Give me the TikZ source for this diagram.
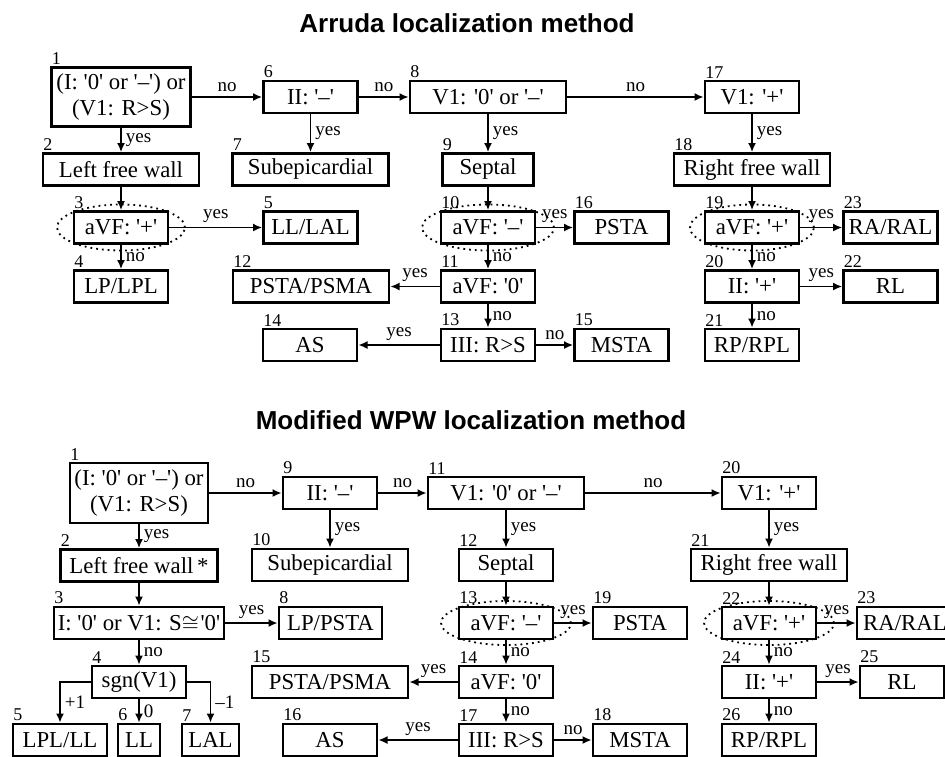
\documentclass[tikz,border=0pt]{standalone}
\usepackage{fontspec}
\usetikzlibrary{arrows.meta}
\setmainfont{Liberation Serif}
\newfontfamily\titlefont{Liberation Sans}

% straight single quotes round a lead value
\newcommand{\qt}[1]{\textquotesingle#1\textquotesingle}

\tikzset{
	box/.style={draw, line width=1.3pt, minimum width=47pt, minimum height=16pt, inner sep=1pt, font=\fontsize{11.4}{13}\selectfont},
	wide/.style={box, minimum width=78pt},
	num/.style={anchor=south west, inner sep=0.6pt, font=\fontsize{9}{10}\selectfont},
	arr/.style={-{Latex[length=4.6pt, width=4pt]}, line width=0.9pt},
	lab/.style={inner sep=2pt, font=\fontsize{9.5}{10}\selectfont},
	ring/.style={dotted, line width=0.9pt},
	title/.style={font=\titlefont\bfseries\fontsize{13}{15}\selectfont}
}

\begin{document}
\begin{tikzpicture}[x=0.5pt, y=-0.5pt]
		\useasboundingbox (0, 0) rectangle (945, 756);
		\clip (0, 0) rectangle (945, 756);

		% Arruda
		\node[title] (t1) at (467, 23) {Arruda localization method};

		\node[box, align=center, minimum width=69.5pt, minimum height=29.5pt, label={[num]north west:1}] (a1) at (121, 97) {(I: \qt{0} or \qt{--}) or\\(V1: R>S)};
		\node[wide, label={[num]north west:2}] (a2) at (121, 169.5) {Left free wall};
		\node[box, label={[num]north west:3}] (a3) at (121, 227.5) {aVF: \qt{+}};
		\node[box, label={[num]north west:4}] (a4) at (121, 286.5) {LP/LPL};
		\node[box, label={[num]north west:5}] (a5) at (310.5, 227.5) {LL/LAL};
		\node[box, label={[num]north west:6}] (a6) at (310.5, 97) {II: \qt{--}};
		\node[wide, label={[num]north west:7}] (a7) at (310.5, 169.5) {Subepicardial};
		\node[wide, label={[num]north west:8}] (a8) at (488, 97) {V1: \qt{0} or \qt{--}};
		\node[box, minimum width=45.5pt, label={[num]north west:9}] (a9) at (488, 169.5) {Septal};
		\node[box, label={[num]north west:10}] (a10) at (488, 227.5) {aVF: \qt{--}};
		\node[box, label={[num]north west:11}] (a11) at (488, 286.5) {aVF: \qt{0}};
		\node[wide, label={[num]north west:12}] (a12) at (311, 286.5) {PSTA/PSMA};
		\node[box, label={[num]north west:13}] (a13) at (488, 345) {III: R>S};
		\node[box, label={[num]north west:14}] (a14) at (310, 345) {AS};
		\node[box, label={[num]north west:15}] (a15) at (621.5, 345) {MSTA};
		\node[box, label={[num]north west:16}] (a16) at (621.5, 227.5) {PSTA};
		\node[box, label={[num]north west:17}] (a17) at (752, 97) {V1: \qt{+}};
		\node[wide, label={[num]north west:18}] (a18) at (752, 169.5) {Right free wall};
		\node[box, label={[num]north west:19}] (a19) at (752, 227.5) {aVF: \qt{+}};
		\node[box, label={[num]north west:20}] (a20) at (752, 286.5) {II: \qt{+}};
		\node[box, label={[num]north west:21}] (a21) at (752, 345) {RP/RPL};
		\node[box, label={[num]north west:22}] (a22) at (890.5, 286.5) {RL};
		\node[box, label={[num]north west:23}] (a23) at (890.5, 227.5) {RA/RAL};

		\draw[ring] (a3) ellipse [x radius=32pt, y radius=11.5pt];
		\draw[ring] (a10) ellipse [x radius=33pt, y radius=11.5pt];
		\draw[ring] (a19) ellipse [x radius=31pt, y radius=11.5pt];

		\draw[arr] (a1) -- node[lab, right] {yes} (a2);
		\draw[arr] (a1) -- node[lab, above] {no} (a6);
		\draw[arr] (a6) -- node[lab, right] {yes} (a7);
		\draw[arr] (a6) -- node[lab, above] {no} (a8);
		\draw[arr] (a8) -- node[lab, right] {yes} (a9);
		\draw[arr] (a8) -- node[lab, above] {no} (a17);
		\draw[arr] (a17) -- node[lab, right] {yes} (a18);
		\draw[arr] (a2) -- (a3);
		\draw[arr] (a3) -- node[lab, above] {yes} (a5);
		\draw[arr] (a3) -- node[lab, right] {no} (a4);
		\draw[arr] (a9) -- (a10);
		\draw[arr] (a10) -- node[lab, above] {yes} (a16);
		\draw[arr] (a10) -- node[lab, right] {no} (a11);
		\draw[arr] (a11) -- node[lab, above] {yes} (a12);
		\draw[arr] (a11) -- node[lab, right] {no} (a13);
		\draw[arr] (a13) -- node[lab, above] {yes} (a14);
		\draw[arr] (a13) -- node[lab, above] {no} (a15);
		\draw[arr] (a18) -- (a19);
		\draw[arr] (a19) -- node[lab, above] {yes} (a23);
		\draw[arr] (a19) -- node[lab, right] {no} (a20);
		\draw[arr] (a20) -- node[lab, above] {yes} (a22);
		\draw[arr] (a20) -- node[lab, right] {no} (a21);

		% modified WPW
		\node[title] (t2) at (471, 420) {Modified WPW localization method};

		\node[box, align=center, minimum width=69pt, minimum height=30pt, label={[num]north west:1}] (w1) at (139, 493) {(I: \qt{0} or \qt{--}) or\\(V1: R>S)};
		\node[wide, minimum width=78.5pt, label={[num]north west:2}] (w2) at (139, 565.5) {Left free wall\,*};
		\node[box, minimum width=85pt, label={[num]north west:3}] (w3) at (139, 623) {I: \qt{0} or V1: S$\cong$\kern0.8pt\qt{0}};
		\node[box, label={[num]north west:4}] (w4) at (139, 682) {sgn(V1)};
		\node[box, label={[num]north west:5}] (w5) at (60, 740) {LPL/LL};
		\node[box, minimum width=21pt, label={[num]north west:6}] (w6) at (139, 740) {LL};
		\node[box, minimum width=28.5pt, label={[num]north west:7}] (w7) at (210.5, 740) {LAL};
		\node[box, minimum width=51.5pt, label={[num]north west:8}] (w8) at (330.5, 623) {LP/PSTA};
		\node[box, label={[num]north west:9}] (w9) at (330, 493) {II: \qt{--}};
		\node[wide, label={[num]north west:10}] (w10) at (330, 565) {Subepicardial};
		\node[wide, label={[num]north west:11}] (w11) at (506, 493) {V1: \qt{0} or \qt{--}};
		\node[box, label={[num]north west:12}] (w12) at (506, 565) {Septal};
		\node[box, label={[num]north west:13}] (w13) at (506, 623) {aVF: \qt{--}};
		\node[box, label={[num]north west:14}] (w14) at (506, 682) {aVF: \qt{0}};
		\node[wide, label={[num]north west:15}] (w15) at (330, 682) {PSTA/PSMA};
		\node[box, label={[num]north west:16}] (w16) at (330, 740) {AS};
		\node[box, label={[num]north west:17}] (w17) at (506, 740) {III: R>S};
		\node[box, label={[num]north west:18}] (w18) at (640, 740) {MSTA};
		\node[box, label={[num]north west:19}] (w19) at (640, 623) {PSTA};
		\node[box, label={[num]north west:20}] (w20) at (769, 493) {V1: \qt{+}};
		\node[wide, label={[num]north west:21}] (w21) at (769, 565) {Right free wall};
		\node[box, label={[num]north west:22}] (w22) at (769, 623) {aVF: \qt{+}};
		\node[box, minimum width=48pt, label={[num]north west:23}] (w23) at (905, 623) {RA/RAL};
		\node[box, label={[num]north west:24}] (w24) at (769, 682) {II: \qt{+}};
		\node[box, minimum width=42pt, label={[num]north west:25}] (w25) at (902, 682) {RL};
		\node[box, label={[num]north west:26}] (w26) at (769, 740) {RP/RPL};

		\draw[ring] (w13) ellipse [x radius=32.5pt, y radius=11pt];
		\draw[ring] (w22) ellipse [x radius=32.5pt, y radius=11pt];

		\draw[arr] (w1) -- node[lab, right] {yes} (w2);
		\draw[arr] (w1) -- node[lab, above] {no} (w9);
		\draw[arr] (w9) -- node[lab, right] {yes} (w10);
		\draw[arr] (w9) -- node[lab, above] {no} (w11);
		\draw[arr] (w11) -- node[lab, right] {yes} (w12);
		\draw[arr] (w11) -- node[lab, above] {no} (w20);
		\draw[arr] (w20) -- node[lab, right] {yes} (w21);
		\draw[arr] (w2) -- (w3);
		\draw[arr] (w3) -- node[lab, above] {yes} (w8);
		\draw[arr] (w3) -- node[lab, right] {no} (w4);
		\draw[arr] (w4.west) -| node[lab, right, pos=0.75] {+1} (w5.north);
		\draw[arr] (w4) -- node[lab, right] {0} (w6);
		\draw[arr] (w4.east) -| node[lab, right, pos=0.75] {--1} (w7.north);
		\draw[arr] (w12) -- (w13);
		\draw[arr] (w13) -- node[lab, above] {yes} (w19);
		\draw[arr] (w13) -- node[lab, right] {no} (w14);
		\draw[arr] (w14) -- node[lab, above] {yes} (w15);
		\draw[arr] (w14) -- node[lab, right] {no} (w17);
		\draw[arr] (w17) -- node[lab, above] {yes} (w16);
		\draw[arr] (w17) -- node[lab, above] {no} (w18);
		\draw[arr] (w21) -- (w22);
		\draw[arr] (w22) -- node[lab, above] {yes} (w23);
		\draw[arr] (w22) -- node[lab, right] {no} (w24);
		\draw[arr] (w24) -- node[lab, above] {yes} (w25);
		\draw[arr] (w24) -- node[lab, right] {no} (w26);
\end{tikzpicture}
\end{document}
